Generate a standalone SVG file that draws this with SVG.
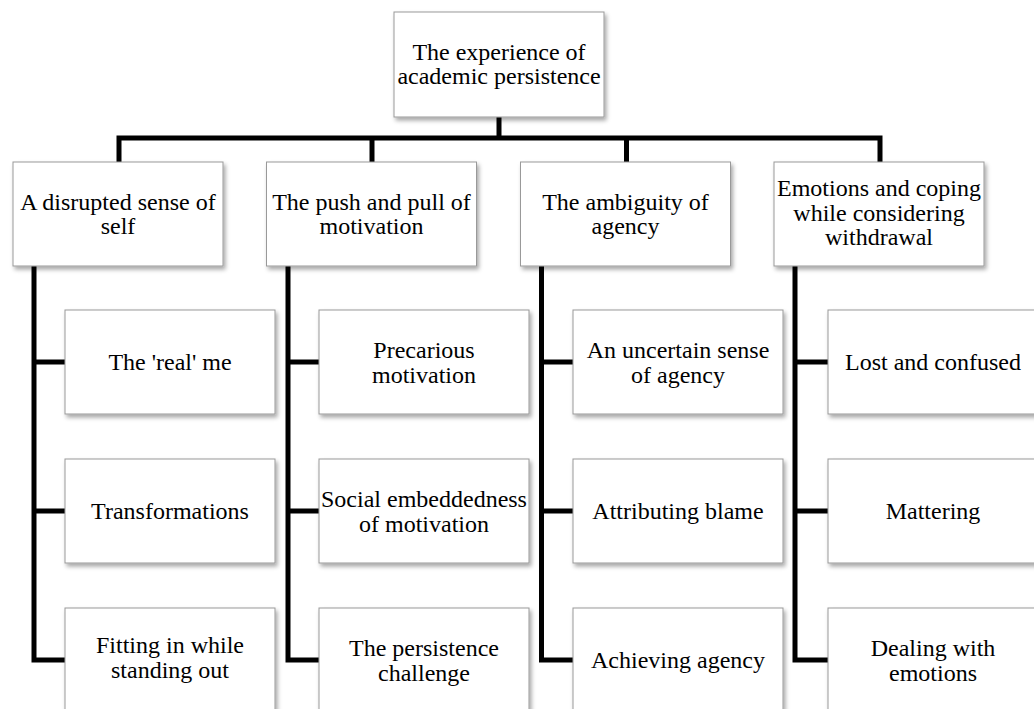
<svg xmlns="http://www.w3.org/2000/svg" width="1034" height="709" viewBox="0 0 1034 709">
<style>
.box{fill:#fff;stroke:#999;stroke-width:1;filter:url(#sh)}
.t{font-family:"Liberation Serif","Times New Roman",serif;font-size:24px;fill:#000;text-anchor:middle}
.c{fill:none;stroke:#000;stroke-width:5;stroke-linejoin:miter}
</style>
<defs>
<filter id="sh" x="-10%" y="-10%" width="125%" height="130%">
<feDropShadow dx="2" dy="3" stdDeviation="2" flood-color="#000" flood-opacity="0.35"/>
</filter>
</defs>
<rect width="1034" height="709" fill="#fff"/>
<g id="connectors">
<path class="c" d="M499,117 V138"/>
<path class="c" d="M119,162 V138 H880 V162"/>
<path class="c" d="M372,138 V162"/>
<path class="c" d="M626.5,138 V162"/>
<path class="c" d="M34,266 V660 H65 M34,362 H65 M34,511 H65"/>
<path class="c" d="M288,266 V660 H319 M288,362 H319 M288,511 H319"/>
<path class="c" d="M541.5,266 V660 H573 M541.5,362 H573 M541.5,511 H573"/>
<path class="c" d="M795,266 V660 H828 M795,362 H828 M795,511 H828"/>
</g>
<g id="root">
<rect class="box" x="394" y="12" width="210" height="105"/>
<text class="t" x="499" y="60">The experience of</text>
<text class="t" x="499" y="84">academic persistence</text>
</g>
<g id="theme1">
<rect class="box" x="13" y="162" width="210" height="104"/>
<text class="t" x="118" y="209.5">A disrupted sense of</text>
<text class="t" x="118" y="233.5">self</text>
</g>
<g id="theme2">
<rect class="box" x="266.5" y="162" width="210" height="104"/>
<text class="t" x="371.5" y="209.5">The push and pull of</text>
<text class="t" x="371.5" y="233.5">motivation</text>
</g>
<g id="theme3">
<rect class="box" x="520.5" y="162" width="210" height="104"/>
<text class="t" x="625.5" y="209.5">The ambiguity of</text>
<text class="t" x="625.5" y="233.5">agency</text>
</g>
<g id="theme4">
<rect class="box" x="774" y="162" width="210" height="104"/>
<text class="t" x="879" y="196">Emotions and coping</text>
<text class="t" x="879" y="220.5">while considering</text>
<text class="t" x="879" y="245">withdrawal</text>
</g>
<g id="c1a">
<rect class="box" x="65" y="310" width="210" height="104"/>
<text class="t" x="170" y="370">The 'real' me</text>
</g>
<g id="c1b">
<rect class="box" x="65" y="459" width="210" height="104"/>
<text class="t" x="170" y="519">Transformations</text>
</g>
<g id="c1c">
<rect class="box" x="65" y="608" width="210" height="104"/>
<text class="t" x="170" y="653">Fitting in while</text>
<text class="t" x="170" y="677.5">standing out</text>
</g>
<g id="c2a">
<rect class="box" x="319" y="310" width="210" height="104"/>
<text class="t" x="424" y="358">Precarious</text>
<text class="t" x="424" y="382.5">motivation</text>
</g>
<g id="c2b">
<rect class="box" x="319" y="459" width="210" height="104"/>
<text class="t" x="424" y="507">Social embeddedness</text>
<text class="t" x="424" y="531.5">of motivation</text>
</g>
<g id="c2c">
<rect class="box" x="319" y="608" width="210" height="104"/>
<text class="t" x="424" y="656">The persistence</text>
<text class="t" x="424" y="680.5">challenge</text>
</g>
<g id="c3a">
<rect class="box" x="573" y="310" width="210" height="104"/>
<text class="t" x="678" y="358">An uncertain sense</text>
<text class="t" x="678" y="382.5">of agency</text>
</g>
<g id="c3b">
<rect class="box" x="573" y="459" width="210" height="104"/>
<text class="t" x="678" y="519">Attributing blame</text>
</g>
<g id="c3c">
<rect class="box" x="573" y="608" width="210" height="104"/>
<text class="t" x="678" y="668">Achieving agency</text>
</g>
<g id="c4a">
<rect class="box" x="828" y="310" width="210" height="104"/>
<text class="t" x="933" y="370">Lost and confused</text>
</g>
<g id="c4b">
<rect class="box" x="828" y="459" width="210" height="104"/>
<text class="t" x="933" y="519">Mattering</text>
</g>
<g id="c4c">
<rect class="box" x="828" y="608" width="210" height="104"/>
<text class="t" x="933" y="656">Dealing with</text>
<text class="t" x="933" y="680.5">emotions</text>
</g>
</svg>
